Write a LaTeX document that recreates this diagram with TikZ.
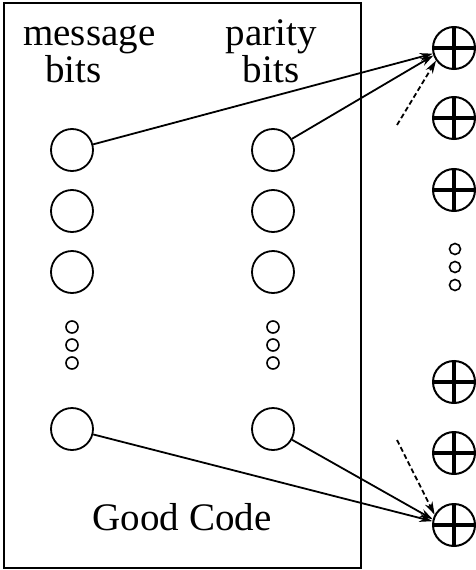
\documentclass[tikz,border=0pt]{standalone}
\usepackage{fontspec}
\setmainfont{Liberation Serif}
\usetikzlibrary{arrows.meta}
\begin{document}
\begin{tikzpicture}[x=1pt,y=-1pt,
  bit/.style={draw,circle,line width=1.8pt,minimum size=42pt,inner sep=0pt},
  dot/.style={draw,circle,line width=1.6pt,minimum size=12pt,inner sep=0pt},
  xdot/.style={draw,circle,line width=1.6pt,minimum size=11pt,inner sep=0pt},
  xor/.style={draw,circle,line width=2pt,minimum size=42pt,inner sep=0pt,
    path picture={\draw[line width=4pt]
      (path picture bounding box.north) -- (path picture bounding box.south)
      (path picture bounding box.west) -- (path picture bounding box.east);}},
  lbl/.style={inner sep=0pt,font=\fontsize{39}{35}\selectfont},
  conn/.style={line width=1.8pt,-{Stealth[length=13pt,width=8pt]}},
  dconn/.style={line width=1.8pt,dash pattern=on 5pt off 3pt,-{Stealth[length=13pt,width=8pt]}}
]
\useasboundingbox (0,0) rectangle (475,570);
\node[draw,line width=2pt,minimum width=357pt,minimum height=565pt,anchor=north west,inner sep=0pt] (box) at (3,1.5) {};
\node[lbl,align=left,anchor=base west] (tm) at (23,82) {message\\\hspace*{22pt}bits};
\node[lbl,align=center,anchor=base] (tp) at (271,82) {parity\\bits};
\node[lbl,anchor=base] (gc) at (182,530) {Good Code};
% message bits
\node[bit] (m1) at (72,150) {};
\node[bit] (m2) at (72,211) {};
\node[bit] (m3) at (72,272) {};
\node[dot] (md1) at (72,327) {};
\node[dot] (md2) at (72,345) {};
\node[dot] (md3) at (72,363) {};
\node[bit] (m4) at (72,429) {};
% parity bits
\node[bit] (p1) at (273,150) {};
\node[bit] (p2) at (273,211) {};
\node[bit] (p3) at (273,272) {};
\node[dot] (pd1) at (273,327) {};
\node[dot] (pd2) at (273,345) {};
\node[dot] (pd3) at (273,363) {};
\node[bit] (p4) at (273,429) {};
% xor column
\node[xor] (x1) at (454,48) {};
\node[xor] (x2) at (454,118) {};
\node[xor] (x3) at (454,190) {};
\node[xdot] (xd1) at (455,249) {};
\node[xdot] (xd2) at (455,267) {};
\node[xdot] (xd3) at (455,285) {};
\node[xor] (x4) at (454,382) {};
\node[xor] (x5) at (454,453) {};
\node[xor] (x6) at (454,525) {};
% connectors
\coordinate (d1) at (397,125);
\coordinate (d2) at (397,440);
\draw[conn] (m1) -- (x1.195);
\draw[conn] (p1) -- (x1.200);
\draw[dconn] (d1) -- (x1.215);
\draw[conn] (m4) -- (x6.170);
\draw[conn] (p4) -- (x6.165);
\draw[dconn] (d2) -- (x6.152);
\end{tikzpicture}
\end{document}
